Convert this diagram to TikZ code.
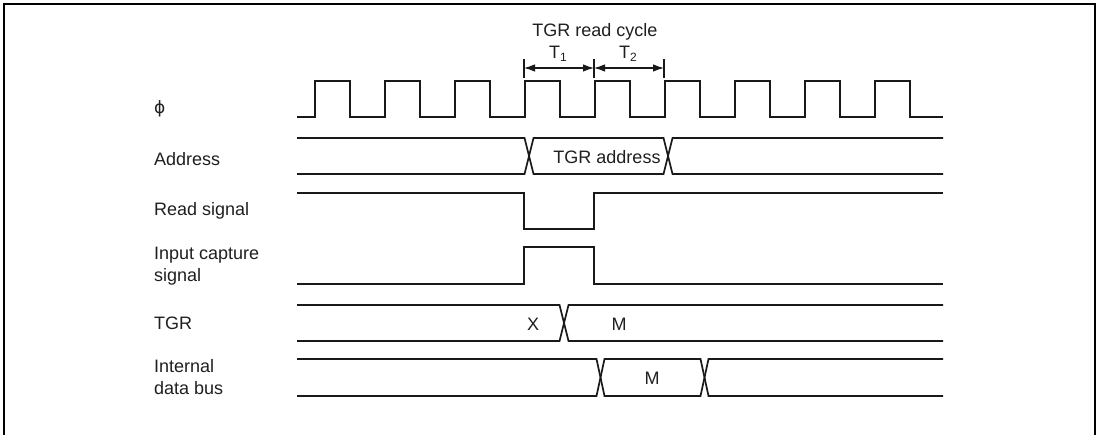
\documentclass[tikz,border=0pt]{standalone}
\usepackage{fontspec}
\setmainfont{Liberation Sans}
\newfontfamily\phifont{DejaVu Sans}
\usetikzlibrary{arrows.meta}
\begin{document}
\begin{tikzpicture}[x=1pt,y=-1pt,
  wave/.style={line width=1.7pt, line join=miter, color=black!90},
  lbl/.style={anchor=west, inner sep=0pt, align=left, font=\fontsize{18}{22}\selectfont, text=black!88},
  txt/.style={inner sep=0pt, font=\fontsize{18}{22}\selectfont, text=black!88},
  tick/.style={line width=1.1pt, color=black!90},
  dimline/.style={line width=1.1pt, color=black!90, {Latex[length=11pt,width=7.5pt]}-{Latex[length=11pt,width=7.5pt]}},
]
\useasboundingbox (0,0) rectangle (1100,435);
\draw[line width=2.2pt] (4,445) -- (4,4) -- (1095,4) -- (1095,445);

% labels
\node[lbl] (lphi) at (154,109) {\phifont\fontsize{17}{20}\selectfont ϕ};
\node[lbl] (laddr) at (154,159) {Address};
\node[lbl] (lrd) at (154,211) {Read signal};
\node[lbl] (lic) at (154,266) {Input capture\\signal};
\node[lbl] (ltgr) at (154,323) {TGR};
\node[lbl] (lidb) at (154,377) {Internal\\data bus};

% clock
\draw[wave] (297,117) foreach \k in {0,...,8} { -- ({315+70*\k},117) -- ({315+70*\k},81) -- ({350+70*\k},81) -- ({350+70*\k},117) } -- (943,117);

% address
\draw[wave] (297,138) -- (524.5,138) -- (533.5,174) -- (663.5,174) -- (672.5,138) -- (943,138);
\draw[wave] (297,174) -- (524.5,174) -- (533.5,138) -- (663.5,138) -- (672.5,174) -- (943,174);
\node[txt] (taddr) at (607,157) {TGR address};

% read signal
\draw[wave] (297,193) -- (524,193) -- (524,229) -- (594,229) -- (594,193) -- (943,193);

% input capture
\draw[wave] (297,284) -- (524,284) -- (524,247) -- (594,247) -- (594,284) -- (943,284);

% TGR
\draw[wave] (297,305) -- (559.5,305) -- (568.5,341) -- (943,341);
\draw[wave] (297,341) -- (559.5,341) -- (568.5,305) -- (943,305);
\node[txt] (tx) at (533,324) {X};
\node[txt] (tm1) at (619,324) {M};

% internal data bus
\draw[wave] (297,359) -- (596.5,359) -- (604.5,396) -- (700.5,396) -- (708.5,359) -- (943,359);
\draw[wave] (297,396) -- (596.5,396) -- (604.5,359) -- (700.5,359) -- (708.5,396) -- (943,396);
\node[txt] (tm2) at (652,378) {M};

% read cycle dimension
\coordinate (a0) at (524,68);
\coordinate (a1) at (594,68);
\coordinate (a2) at (664,68);
\draw[tick] (524,59) -- (524,78);
\draw[tick] (594,59) -- (594,78);
\draw[tick] (664,59) -- (664,78);
\draw[dimline] (a0) -- (a1);
\draw[dimline] (a1) -- (a2);
\node[txt] (t1) at (558,54) {T\raisebox{-0.35ex}{\fontsize{12}{14}\selectfont 1}};
\node[txt] (t2) at (628,54) {T\raisebox{-0.35ex}{\fontsize{12}{14}\selectfont 2}};
\node[txt] (cyc) at (595,32) {TGR read cycle};
\end{tikzpicture}
\end{document}
